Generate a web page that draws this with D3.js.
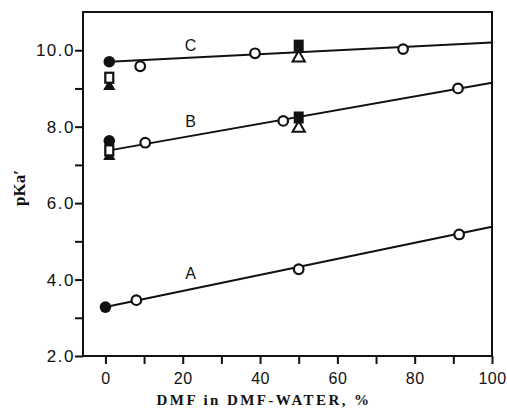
<!DOCTYPE html>
<html>
<head>
<meta charset="utf-8">
<script src="https://cdn.jsdelivr.net/npm/d3@7"></script>
<style>
  body { margin: 0; background: #fff; }
  svg { display: block; }
</style>
</head>
<body>
<div id="chart"></div>
<script>
// lines: start and end of each fitted line
const lineNames = ['A', 'B', 'C'];
const lineX = [[0, 100], [1, 100], [1, 100]];
const lineY = [[3.28, 5.38], [7.38, 9.15], [9.70, 10.2]];

// open circles
const openX = [8, 50, 91.5, 10.3, 46, 91.2, 9, 38.7, 77];
const openY = [3.46, 4.27, 5.18, 7.58, 8.15, 9.0, 9.58, 9.92, 10.03];

// filled circles
const fillX = [0, 1, 1];
const fillY = [3.28, 7.63, 9.70];

// open squares / filled squares
const openSqX = [1, 1];
const openSqY = [7.38, 9.28];
const fillSqX = [50, 50];
const fillSqY = [8.24, 10.12];

// filled triangles / open triangles
const fillTriX = [1, 1];
const fillTriY = [7.22, 9.05];
const openTriX = [50, 50];
const openTriY = [7.96, 9.8];

// labels of the lines
const labelX = [22, 22, 22];
const labelY = [4.16, 8.14, 10.13];

const xTicks = [0, 10, 20, 30, 40, 50, 60, 70, 80, 90, 100];
const yTicks = [2, 3, 4, 5, 6, 7, 8, 9, 10];

var width = 507, height = 415;
var margin = { top: 12, right: 15, bottom: 59, left: 83 };

var svg = d3.select('#chart')
  .append('svg')
  .attr('width', width)
  .attr('height', height);

var x = d3.scaleLinear()
  .domain([-5.8, 100])
  .range([margin.left, width - margin.right]);

var y = d3.scaleLinear()
  .domain([2, 11])
  .range([height - margin.bottom, margin.top]);

var ink = '#111';

// frame
svg.append('rect')
  .attr('x', x(-5.8))
  .attr('y', y(11))
  .attr('width', x(100) - x(-5.8))
  .attr('height', y(2) - y(11))
  .attr('fill', 'none')
  .attr('stroke', ink)
  .attr('stroke-width', 2);

// axes
var xAxis = svg.append('g')
  .attr('transform', 'translate(0,' + y(2) + ')')
  .call(d3.axisBottom(x).tickValues(xTicks).tickSize(8).tickPadding(9)
    .tickFormat(function(d) { return d % 20 === 0 ? d : ''; }));

var yAxis = svg.append('g')
  .attr('transform', 'translate(' + x(-5.8) + ',0)')
  .call(d3.axisLeft(y).tickValues(yTicks).tickSize(8).tickPadding(0)
    .tickFormat(function(d) { return d % 2 === 0 ? d3.format('.1f')(d) : ''; }));

[xAxis, yAxis].forEach(function(g) {
  g.select('.domain').remove();
  g.selectAll('line').attr('stroke', ink).attr('stroke-width', 2);
  g.selectAll('text')
    .attr('fill', ink)
    .style('font-family', 'Liberation Sans, Arial, sans-serif');
});
yAxis.selectAll('text')
  .style('font-size', '17px')
  .style('letter-spacing', '1.5px');
xAxis.selectAll('text')
  .style('font-size', '16px')
  .style('letter-spacing', '0.5px');

// fitted lines
var line = d3.line()
  .x(function(d) { return x(d[0]); })
  .y(function(d) { return y(d[1]); });

svg.selectAll('.fit')
  .data(lineNames)
  .enter()
  .append('path')
  .attr('class', 'fit')
  .attr('d', function(d, i) {
    return line([[lineX[i][0], lineY[i][0]], [lineX[i][1], lineY[i][1]]]);
  })
  .attr('fill', 'none')
  .attr('stroke', ink)
  .attr('stroke-width', 2);

// markers
svg.selectAll('.open')
  .data(openX)
  .enter()
  .append('circle')
  .attr('cx', function(d) { return x(d); })
  .attr('cy', function(d, i) { return y(openY[i]); })
  .attr('r', 4.8)
  .attr('fill', '#fff')
  .attr('stroke', ink)
  .attr('stroke-width', 2.2);

svg.selectAll('.filled')
  .data(fillX)
  .enter()
  .append('circle')
  .attr('cx', function(d) { return x(d); })
  .attr('cy', function(d, i) { return y(fillY[i]); })
  .attr('r', 5.8)
  .attr('fill', ink);

var tri = d3.symbol().type(d3.symbolTriangle).size(65);

svg.selectAll('.ftri')
  .data(fillTriX)
  .enter()
  .append('path')
  .attr('transform', function(d, i) { return 'translate(' + x(d) + ',' + y(fillTriY[i]) + ')'; })
  .attr('d', tri)
  .attr('fill', ink);

svg.selectAll('.otri')
  .data(openTriX)
  .enter()
  .append('path')
  .attr('transform', function(d, i) { return 'translate(' + x(d) + ',' + y(openTriY[i]) + ')'; })
  .attr('d', tri)
  .attr('fill', '#fff')
  .attr('stroke', ink)
  .attr('stroke-width', 2);

svg.selectAll('.osq')
  .data(openSqX)
  .enter()
  .append('rect')
  .attr('x', function(d) { return x(d) - 4; })
  .attr('y', function(d, i) { return y(openSqY[i]) - 5; })
  .attr('width', 8)
  .attr('height', 10)
  .attr('fill', '#fff')
  .attr('stroke', ink)
  .attr('stroke-width', 2.2);

svg.selectAll('.fsq')
  .data(fillSqX)
  .enter()
  .append('rect')
  .attr('x', function(d) { return x(d) - 5; })
  .attr('y', function(d, i) { return y(fillSqY[i]) - 6; })
  .attr('width', 10)
  .attr('height', 12)
  .attr('fill', ink);

// line labels
svg.selectAll('.lab')
  .data(lineNames)
  .enter()
  .append('text')
  .attr('x', function(d, i) { return x(labelX[i]); })
  .attr('y', function(d, i) { return y(labelY[i]); })
  .attr('dy', '0.35em')
  .attr('text-anchor', 'middle')
  .style('font-family', 'Liberation Sans, Arial, sans-serif')
  .style('font-size', '16px')
  .attr('fill', ink)
  .text(function(d) { return d; });

// axis titles
svg.append('text')
  .attr('x', 264)
  .attr('y', 405)
  .attr('text-anchor', 'middle')
  .style('font-family', 'Liberation Serif, Times New Roman, serif')
  .style('font-size', '15px')
  .style('font-weight', 'bold')
  .style('letter-spacing', '2.4px')
  .attr('fill', ink)
  .text('DMF in DMF-WATER, %');

svg.append('text')
  .attr('transform', 'translate(25,188) rotate(-90)')
  .attr('text-anchor', 'middle')
  .style('font-family', 'Liberation Serif, Times New Roman, serif')
  .style('font-size', '17px')
  .style('font-weight', 'bold')
  .attr('fill', ink)
  .text('pKa\u2032');
</script>
</body>
</html>
